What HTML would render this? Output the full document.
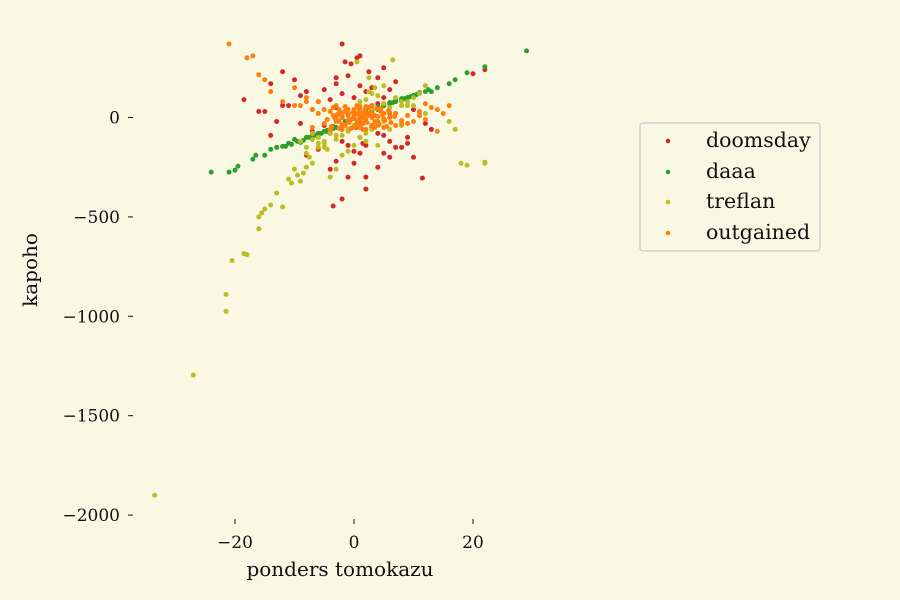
<!DOCTYPE html>
<html><head><meta charset="utf-8"><style>
body{margin:0;background:#f9f8e3;}
svg{display:block;font-family:"DejaVu Serif","Liberation Serif",serif;}
</style></head><body>
<svg id="chart" width="900" height="600">
<rect width="900" height="600" fill="#f9f8e3"/>
<g id="axes"></g>
<g id="marks"></g>
<text x="340" y="576" font-size="20" text-anchor="middle" fill="#111">ponders tomokazu</text>
<text transform="translate(37,270) rotate(-90)" font-size="20" text-anchor="middle" fill="#111">kapoho</text>
<g>
<rect x="640" y="123" width="180" height="128" rx="3" fill="#f9f8e3" stroke="#d0d0d0" stroke-width="1.5"/>
<g><circle cx="668" cy="141" r="2.3" fill="#d62728"/><text x="706" y="147" font-size="20.5" fill="#111">doomsday</text></g>
<g><circle cx="668" cy="172" r="2.3" fill="#2ca02c"/><text x="706" y="178" font-size="20.5" fill="#111">daaa</text></g>
<g><circle cx="668" cy="202" r="2.3" fill="#bcbd22"/><text x="706" y="208" font-size="20.5" fill="#111">treflan</text></g>
<g><circle cx="668" cy="233" r="2.3" fill="#ff7f0e"/><text x="706" y="239" font-size="20.5" fill="#111">outgained</text></g>
</g>
</svg>
<script>
const xTicks=[-20,0,20];
const yTicks=[0,-500,-1000,-1500,-2000];
const seriesNames=["doomsday","daaa","treflan","outgained"];
const doomsdayX=[-2,0.5,-1.5,1,2.5,-0.5,3,-3,5,7,-8,-6,-10,-12,-14,-18.5,-15,-13,-11,-9,-7,-5,-4,-3,-2,-1,0,1,2,3,4,5,6,8,10,11,12,13,9,7,6,4,2,0,-2,-4,-6,-8,-1,1,3,5,-3,-5,2,4,6,8,-3.5,-2,-1,1.5,11.5,20,22,3,5,-7,-9,-12,-14,-16,-4,0,1,-1,2,6,9,10,-2,0.3,-3,1,4];
const doomsdayY=[370,300,280,310,230,270,150,200,250,180,130,80,190,230,170,90,30,-20,60,110,40,140,90,170,120,210,100,160,130,60,200,100,140,80,40,10,-30,-60,-100,-150,-200,-250,-300,-170,-120,-80,-160,-190,-60,-100,-40,-180,-220,-40,-140,-80,-120,-150,-445,-410,-140,-130,-305,220,240,-50,-90,-70,-30,60,-90,30,-260,-230,-180,-300,-360,20,-130,-200,0,-50,50,-20,70];
const daaaX=[-24,-21,-19.5,-16.5,-15,-14,-12,-11,-9.5,-8,-7,-6,-5,-4,-3,-2,5,6,7,8,9,10,11,12,13,14,16,17,19,22,29,-20,-17,-13,-10,-6,-4.5,6.5,8.5,9.5,10.5,12.5,4,3,-3.5,-1.5,
 3,4,5,6,7,8,9,10,11,-8.5,
 -7.5,-6.5,-5.5,-4.5,-3.5,2,-9,-10.5,-11.5,-7];
const daaaY=[-275,-275,-245,-190,-190,-160,-145,-130,-120,-100,-90,-80,-70,-60,-50,-40,60,70,80,90,100,110,120,130,130,150,170,190,225,255,335,-265,-210,-150,-110,-80,-65,75,95,105,115,140,40,30,-45,-20,
 40,55,60,75,85,95,100,110,125,-115,
 -100,-90,-80,-70,-55,30,-125,-135,-145,-110];
const treflanX=[-33.5,-27,-21.5,-21.5,-20.5,-18.5,-18,-16,-16,-15.5,-15,-14,-13,-12,-11,-10.5,-10,-9.5,-9,-8.5,-8,-7.5,-7,-6,-5,-4,-3,-2,-1,0,1,2,3,4,5,6,7,8,9,10,11,12,14,16,17,18,19,22,-6,-4,-2,0,2,4,6,8,-7,-5,-3,-1,1,3,5,6.5,10,12,-8,-6,2.5,3.5,0.5,22,
 1,2,3,4,5,6,7,8,9,2.5,
 -1,-2,-3,-4,-5,-6,-7,-8,-9,-4.5];
const treflanY=[-1900,-1295,-975,-890,-720,-685,-690,-560,-500,-480,-460,-440,-380,-450,-310,-330,-260,-290,-320,-280,-250,-200,-230,-150,-120,-300,-260,-190,-170,-140,-100,-80,-60,-40,-20,0,20,60,80,100,120,160,40,-20,-60,-230,-240,-225,-100,-80,-60,-40,-120,-140,-60,-40,-110,-150,-90,-70,80,120,160,290,60,20,-180,-130,200,150,280,-230,
 60,90,40,110,70,50,100,80,60,130,
 -60,-90,-110,-70,-130,-100,-80,-150,-120,-160];
const outgainedX=[-21,-18,-17,-16,-15,-14,-12,-10,-9,-8,
 -7,-6,-5,-4.5,-4,-3.5,-3,-2.5,-2,-1.5,
 -1,-0.5,0,0.5,1,1.5,2,2.5,3,3.5,
 4,4.5,5,6,7,8,9,10,11,12,
 13,14,15,16,-3,-2,-1,0,1,2,
 3,4,5,-2.5,-1.5,-0.5,0.5,1.5,2.5,3.5,
 4.5,-3,-1,1,3,5,-2,0,2,4,
 6,8,-6,-8,-10,-7,7,9,11,0,
 -1,1,-2,2,12,14,-4,-5,-3.8,-2.8,
 -1.8,-0.8,0.2,1.2,2.2,3.2,4.2,5.2,6.2,-3.2,
 -2.2,-1.2,-0.2,0.8,1.8,2.8,3.8,4.8,5.8,6.8,
 -3.5,-2.5,-1.5,-0.5,0.5,1.5,2.5,3.5,4.5,5.5,
 0,1,2,3,-1,-2,4,5,0.5,1.5];
const outgainedY=[370,300,310,215,190,130,80,150,60,80,
 40,20,40,-10,30,10,-20,40,0,-40,
 20,-10,10,-30,30,0,-20,20,-40,10,
 -20,30,-10,0,20,-30,10,-20,30,-10,
 50,40,20,60,60,-40,40,-50,50,-60,
 60,-30,-50,-20,30,-10,20,-30,10,-20,
 30,0,10,-10,0,20,5,-5,15,-25,
 25,-15,80,100,60,-50,-40,-30,10,40,
 -20,-50,-60,55,70,-70,-60,-30,-45,15,
 -35,-25,-45,-35,-25,-45,-35,-15,-25,-5,
 25,35,25,45,35,25,45,15,35,5,
 50,-55,55,-55,60,-60,50,-50,45,-45,
 -5,5,-10,15,-15,10,5,-5,-15,15];
const colors=["#d62728","#2ca02c","#bcbd22","#ff7f0e"];
const xs=[doomsdayX,daaaX,treflanX,outgainedX];
const ys=[doomsdayY,daaaY,treflanY,outgainedY];
const X0=354,XS=5.95,Y0=117.5,YS=0.1988;
function sx(v){return X0+v*XS;}
function sy(v){return Y0-v*YS;}
const NS="http://www.w3.org/2000/svg";
const axes=document.getElementById('axes');
xTicks.forEach(t=>{
  const g=document.createElementNS(NS,'g');
  
  
  g.innerHTML=`<line x1="${sx(t)}" x2="${sx(t)}" y1="519" y2="524" stroke="#111" stroke-width="1"/><text x="${sx(t)}" y="548" font-size="17" text-anchor="middle" fill="#111">${t<0?'\u2212'+(-t):t}</text>`;
  axes.appendChild(g);
});
yTicks.forEach(t=>{
  const g=document.createElementNS(NS,'g');
  
  
  g.innerHTML=`<line x1="128" x2="133" y1="${sy(t)}" y2="${sy(t)}" stroke="#111" stroke-width="1"/><text x="120" y="${sy(t)+6}" font-size="17" text-anchor="end" fill="#111">${t<0?'\u2212'+(-t):t}</text>`;
  axes.appendChild(g);
});
const marks=document.getElementById('marks');
seriesNames.forEach((n,si)=>{
  const g=document.createElementNS(NS,'g');
  
  
  const len=Math.min(xs[si].length,ys[si].length);
  for(let i=0;i<len;i++){
    const c=document.createElementNS(NS,'circle');
    c.setAttribute('cx',sx(xs[si][i]));
    c.setAttribute('cy',sy(ys[si][i]));
    c.setAttribute('r',2.5);
    c.setAttribute('fill',colors[si]);
    
    
    g.appendChild(c);
  }
  marks.appendChild(g);
});
</script>
</body></html>
